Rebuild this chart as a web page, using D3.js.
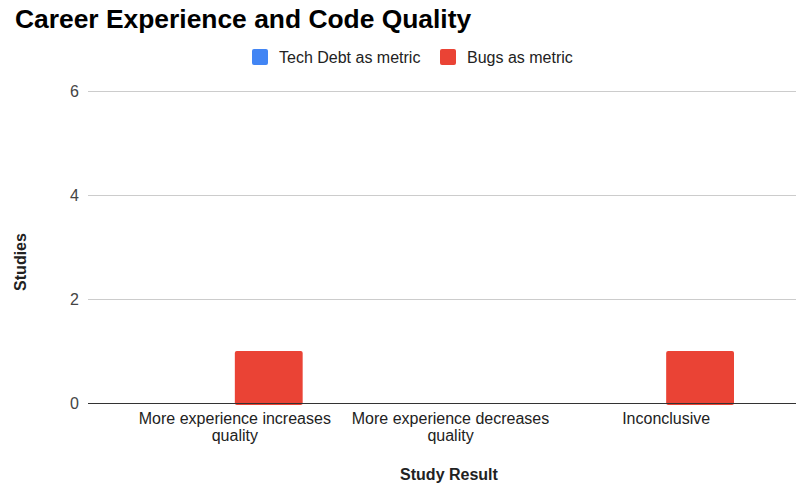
<!DOCTYPE html>
<html>
<head>
<meta charset="utf-8">
<script src="https://cdn.jsdelivr.net/npm/d3@7"></script>
<style>
  body { margin: 0; background: #fff; }
  svg { display: block; font-family: "Liberation Sans", Arial, sans-serif; }
</style>
</head>
<body>
<svg id="chart" width="796" height="484"></svg>
<script>
const categories = ["More experience increases quality", "More experience decreases quality", "Inconclusive"];
const categoryLines = [["More experience increases", "quality"], ["More experience decreases", "quality"], ["Inconclusive"]];
const seriesNames = ["Tech Debt as metric", "Bugs as metric"];
const techDebt = [0, 0, 0];
const bugs = [1, 0, 1];
const yTicks = [0, 2, 4, 6];
const colors = ["#4285f4", "#ea4335"];

const svg = d3.select("#chart");
const plotLeft = 88, plotRight = 796, plotTop = 91, plotBottom = 403;

const y = d3.scaleLinear().domain([0, 6]).range([plotBottom, plotTop]);
const x0 = d3.scaleBand().domain(categories).range([127, 774]).paddingInner(0).paddingOuter(0);
const x1 = d3.scaleBand().domain(seriesNames).range([40, x0.bandwidth() - 40]);

// title
svg.append("text").attr("x", 15).attr("y", 28)
  .attr("font-size", 26.4).attr("font-weight", "bold").attr("fill", "#000")
  .text("Career Experience and Code Quality");

// legend
const legendItems = [{name: seriesNames[0], x: 252}, {name: seriesNames[1], x: 440}];
legendItems.forEach((d, i) => {
  svg.append("rect").attr("x", d.x).attr("y", 49).attr("width", 16).attr("height", 16)
    .attr("rx", 2).attr("fill", colors[i]);
  svg.append("text").attr("x", d.x + 27).attr("y", 63).attr("font-size", 16)
    .attr("fill", "#222").text(d.name);
});

// gridlines
svg.append("g").selectAll("line").data(yTicks.filter(t => t !== 0)).join("line")
  .attr("x1", plotLeft).attr("x2", plotRight)
  .attr("y1", d => Math.round(y(d)) + 0.5).attr("y2", d => Math.round(y(d)) + 0.5)
  .attr("stroke", "#cccccc").attr("stroke-width", 1);

// y tick labels
svg.append("g").selectAll("text").data(yTicks).join("text")
  .attr("x", 79).attr("y", d => y(d) + 6)
  .attr("text-anchor", "end").attr("font-size", 16).attr("fill", "#444")
  .text(d => d);

// bars
const rows = categories.map((c, i) => ({cat: c, vals: [techDebt[i], bugs[i]]}));
const groups = svg.append("g").selectAll("g").data(rows).join("g")
  .attr("transform", d => `translate(${x0(d.cat)},0)`);
groups.selectAll("rect").data(d => d.vals.map((v, j) => ({v, j})).filter(e => e.v > 0)).join("rect")
  .attr("x", e => x1(seriesNames[e.j]))
  .attr("width", x1.bandwidth())
  .attr("y", e => y(e.v))
  .attr("height", e => y(0) - y(e.v) + 2)
  .attr("rx", 2)
  .attr("fill", e => colors[e.j]);

// baseline
svg.append("line").attr("x1", plotLeft).attr("x2", plotRight)
  .attr("y1", plotBottom + 0.5).attr("y2", plotBottom + 0.5)
  .attr("stroke", "#333").attr("stroke-width", 1);

// x labels
categories.forEach((c, i) => {
  const cx = x0(c) + x0.bandwidth() / 2;
  const t = svg.append("text").attr("text-anchor", "middle").attr("font-size", 16).attr("fill", "#222");
  categoryLines[i].forEach((line, k) => {
    t.append("tspan").attr("x", cx).attr("y", 424 + k * 17).text(line);
  });
});

// axis titles
svg.append("text").attr("x", 449).attr("y", 480).attr("text-anchor", "middle")
  .attr("font-size", 16).attr("font-weight", "bold").attr("fill", "#222").text("Study Result");
svg.append("text").attr("transform", "translate(26,262) rotate(-90)").attr("text-anchor", "middle")
  .attr("font-size", 16).attr("font-weight", "bold").attr("fill", "#222").text("Studies");
</script>
</body>
</html>
